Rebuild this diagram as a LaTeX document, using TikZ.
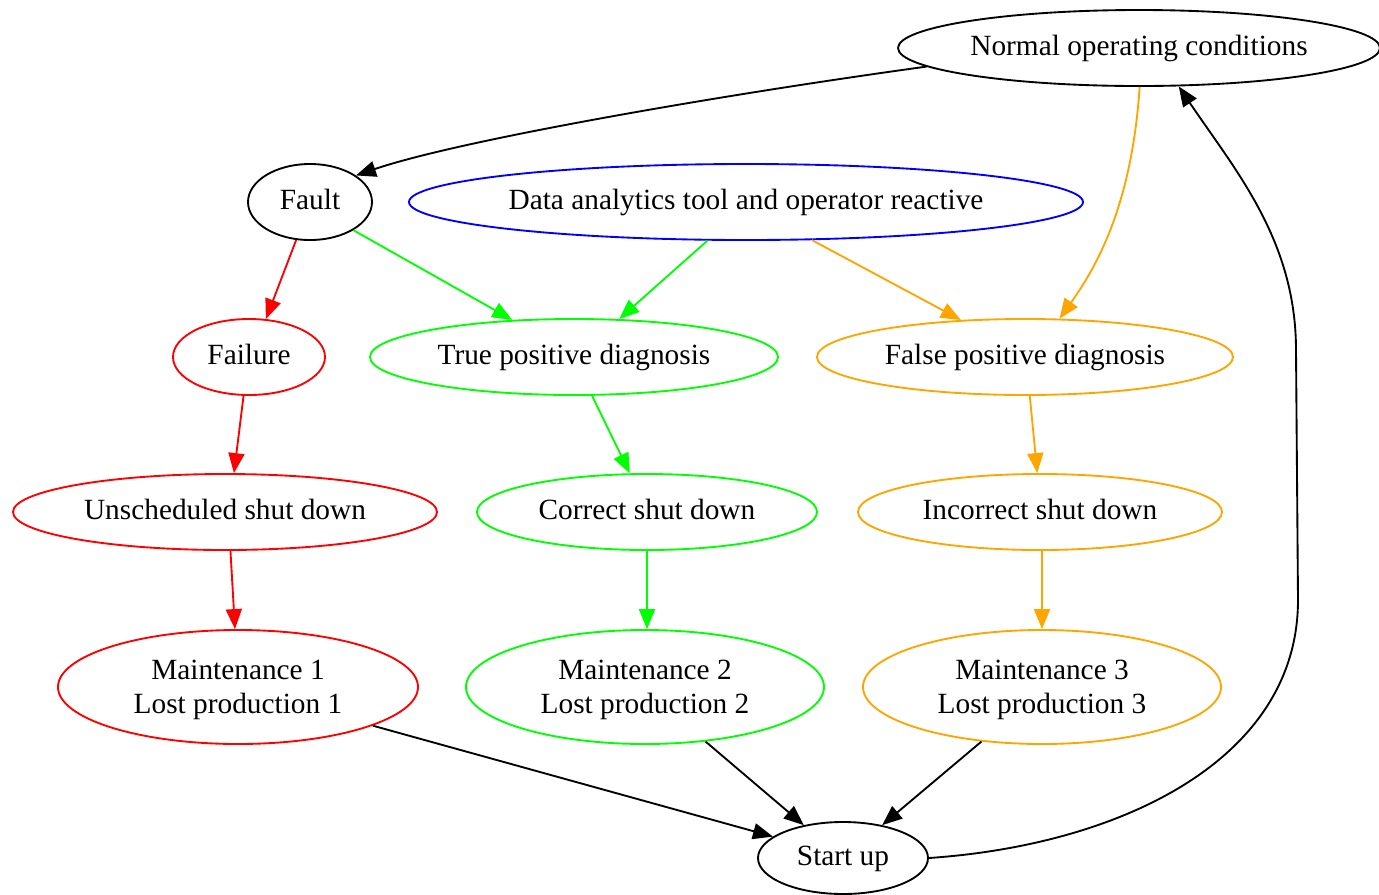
\documentclass[tikz,border=0pt]{standalone}
\usepackage{fontspec}
\setmainfont{Liberation Serif}
\usetikzlibrary{shapes.geometric,arrows.meta}
\definecolor{gvorange}{HTML}{FFA500}
\definecolor{gvgreen}{HTML}{00FF00}
\definecolor{gvred}{HTML}{FF0000}
\definecolor{gvblue}{HTML}{0000FF}
% one-line and two-line labels, sized to zero so the ellipse keeps its own size
\newcommand{\lbl}[1]{\raisebox{-5.5pt}[0pt][0pt]{\makebox[0pt][c]{#1}}}
\newcommand{\lbltwo}[2]{\raisebox{5.5pt}[0pt][0pt]{\makebox[0pt][c]{\begin{tabular}[t]{@{}c@{}}#1\\#2\end{tabular}}}}
\tikzset{
  state/.style 2 args={ellipse, draw, line width=1.4pt, inner sep=0pt,
    minimum width=#1, minimum height=#2, text=black,
    font=\fontsize{22}{25}\selectfont},
  edge/.style={line width=1.4pt, -{Triangle[length=15pt,width=12pt]}},
}
\begin{document}
\begin{tikzpicture}[x=0.75pt, y=-0.75pt]
\useasboundingbox (0,0) rectangle (1379,894);

% states
\node[state={361.5pt}{57pt}] (normal) at (1139,48) {\lbl{Normal operating conditions}};
\node[state={93pt}{57pt}] (fault) at (310,202) {\lbl{Fault}};
\node[state={505.5pt}{57pt}, draw=gvblue] (data) at (746,202) {\lbl{Data analytics tool and operator reactive}};
\node[state={114pt}{57pt}, draw=gvred] (failure) at (249,357) {\lbl{Failure}};
\node[state={306pt}{57pt}, draw=gvgreen] (truepos) at (574,357) {\lbl{True positive diagnosis}};
\node[state={312pt}{57pt}, draw=gvorange] (falsepos) at (1025,357) {\lbl{False positive diagnosis}};
\node[state={318pt}{57pt}, draw=gvred] (unsched) at (225,512) {\lbl{Unscheduled shut down}};
\node[state={255pt}{57pt}, draw=gvgreen] (correct) at (647,512) {\lbl{Correct shut down}};
\node[state={273pt}{57pt}, draw=gvorange] (incorrect) at (1040,512) {\lbl{Incorrect shut down}};
\node[state={270pt}{85.5pt}, draw=gvred] (maint1) at (238,687) {\lbltwo{Maintenance 1}{Lost production 1}};
\node[state={268.5pt}{85.5pt}, draw=gvgreen] (maint2) at (645,687) {\lbltwo{Maintenance 2}{Lost production 2}};
\node[state={268.5pt}{85.5pt}, draw=gvorange] (maint3) at (1042,687) {\lbltwo{Maintenance 3}{Lost production 3}};
\node[state={127.5pt}{54pt}] (start) at (843,858) {\lbl{Start up}};

% transitions
\draw[edge] (normal.185.4) .. controls (720,95) and (460,140) .. (fault.30);
\draw[edge, gvred] (fault.250.7) -- (failure.66.6);
\draw[edge, gvgreen] (fault.-33.7) -- (truepos.149.2);
\draw[edge, gvgreen] (data.225) -- (truepos.40.7);
\draw[edge, gvorange] (data.-30) -- (falsepos.150.3);
\draw[edge, gvorange] (normal.-89) .. controls (1132,200) and (1100,262) .. (falsepos.48.3);
\draw[edge, gvred] (failure.262) -- (unsched.77.8);
\draw[edge, gvgreen] (truepos.-65) -- (correct.114.7);
\draw[edge, gvorange] (falsepos.-83) -- (incorrect.94.6);
\draw[edge, gvred] (unsched.-82.9) -- (maint1.93);
\draw[edge, gvgreen] (correct.-90) -- (maint2.88);
\draw[edge, gvorange] (incorrect.-87) -- (maint3.90);
\draw[edge] (maint1.-16.6) -- (start.163.6);
\draw[edge] (maint2.-42) -- (start.140);
\draw[edge] (maint3.222.5) -- (start.40.9);
\draw[edge] (start.0) .. controls (1120,845) and (1298,760) .. (1298,600)
  -- (1296,350) .. controls (1296,240) and (1235,170) .. (normal.-44.3);
\end{tikzpicture}
\end{document}
